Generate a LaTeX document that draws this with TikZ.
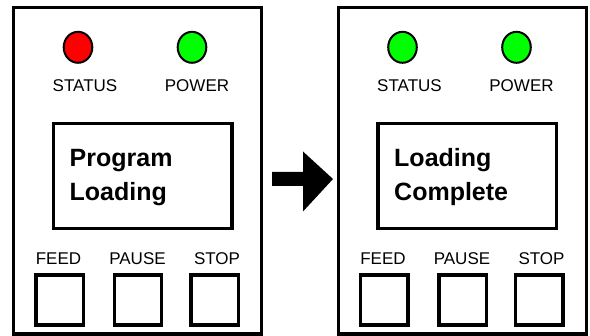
\documentclass[tikz,border=0pt]{standalone}
\usepackage{fontspec}
\setmainfont{Liberation Sans}
\usetikzlibrary{shapes.geometric}
\definecolor{ledred}{RGB}{255,0,0}
\definecolor{ledgreen}{RGB}{0,255,0}
\begin{document}
\begin{tikzpicture}[x=1pt,y=-1pt,
  panel/.style={draw, line width=3.3pt, inner sep=0pt, outer sep=0pt, minimum width=248pt, minimum height=326.3pt},
  led/.style={draw, ellipse, line width=2pt, inner sep=0pt, minimum width=28.6pt, minimum height=31pt},
  display/.style={draw, line width=3.5pt, inner sep=0pt, minimum width=178.5pt, minimum height=105.4pt},
  button/.style={draw, line width=3.3pt, inner sep=0pt, minimum width=47.3pt, minimum height=50pt},
  lbl/.style={inner sep=0pt, anchor=base, font=\fontsize{17}{20}\selectfont},
  disptext/.style={inner sep=0pt, anchor=base west, font=\fontsize{25}{30}\selectfont\bfseries}
]
\useasboundingbox (0,0) rectangle (590,336);
\fill[white] (0,0) rectangle (590,336);
\foreach \dx/\p/\sc/\la/\lb in {0/L/ledred/Program/Loading,324.5/R/ledgreen/Loading/Complete}{
  \begin{scope}[xshift=\dx pt]
    \node[panel] (\p-panel) at (137.8,170.9) {};
    \node[led, fill=\sc] (\p-status) at (78,47.3) {};
    \node[led, fill=ledgreen] (\p-power) at (192,47.3) {};
    \node[lbl] (\p-statuslbl) at (85,91.7) {STATUS};
    \node[lbl] (\p-powerlbl) at (197,91.7) {POWER};
    \node[display] (\p-display) at (142.75,176) {};
    \node[disptext] (\p-line1) at (69.5,167) {\la};
    \node[disptext] (\p-line2) at (69.5,200.5) {\lb};
    \node[lbl] (\p-feedlbl) at (58.5,265) {FEED};
    \node[lbl] (\p-pauselbl) at (137.5,265) {PAUSE};
    \node[lbl] (\p-stoplbl) at (217,265) {STOP};
    \node[button] (\p-feed) at (59.7,300) {};
    \node[button] (\p-pause) at (138,300) {};
    \node[button] (\p-stop) at (214.7,300) {};
  \end{scope}
}
\fill (272,172) -- (303,172) -- (303,151.5) -- (333,179) -- (303,211.5) -- (303,186) -- (272,186) -- cycle;
\end{tikzpicture}
\end{document}
